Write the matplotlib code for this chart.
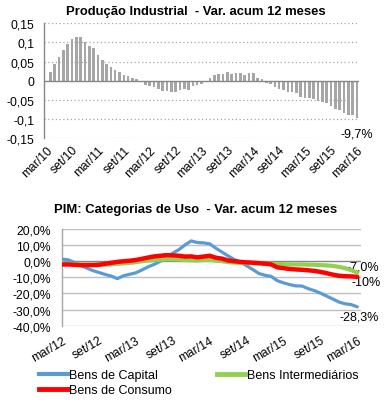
import matplotlib
matplotlib.use('Agg')
import matplotlib.pyplot as plt
from matplotlib.lines import Line2D

plt.rcParams['font.family'] = ['Liberation Sans', 'DejaVu Sans']

# ---------------- Top chart data ----------------
pi_title = 'Produção Industrial  - Var. acum 12 meses'
pi_ticklabels = ['mar/10', 'set/10', 'mar/11', 'set/11', 'mar/12', 'set/12', 'mar/13',
                 'set/13', 'mar/14', 'set/14', 'mar/15', 'set/15', 'mar/16']
pi_values = [-0.003, 0.022, 0.043, 0.062, 0.080, 0.096, 0.109, 0.114, 0.114, 0.101, 0.090, 0.085,
             0.067, 0.054, 0.043, 0.035, 0.027, 0.022, 0.014, 0.011, 0.006, 0.0035, -0.003, -0.011,
             -0.014, -0.017, -0.023, -0.027, -0.027, -0.030, -0.030, -0.025, -0.022, -0.025, -0.014, -0.011,
             -0.009, -0.001, 0.006, 0.014, 0.017, 0.017, 0.022, 0.017, 0.019, 0.019, 0.014, 0.019,
             0.019, 0.006, 0.0035, -0.005, -0.010, -0.017, -0.022, -0.025, -0.030, -0.030, -0.032, -0.042,
             -0.045, -0.046, -0.049, -0.053, -0.055, -0.058, -0.065, -0.073, -0.077, -0.084, -0.089, -0.089,
             -0.097]
pi_yticks = [0.15, 0.1, 0.05, 0, -0.05, -0.1, -0.15]
pi_yticklabels = ['0,15', '0,1', '0,05', '0', '-0,05', '-0,1', '-0,15']
pi_last_label = '-9,7%'

# ---------------- Bottom chart data ----------------
cat_title = 'PIM: Categorias de Uso  - Var. acum 12 meses'
cat_ticklabels = ['mar/12', 'set/12', 'mar/13', 'set/13', 'mar/14', 'set/14', 'mar/15', 'set/15', 'mar/16']
bens_capital = [1.3, 0.9, -0.7, -2.7, -4.2, -5.8, -7.0, -8.2, -9.2, -10.8, -9.0, -8.1,
                -7.2, -5.4, -3.5, -1.9, 0.0, 2.7, 5.0, 7.2, 10.1, 12.6, 11.6, 11.4,
                10.8, 8.1, 5.7, 3.3, 1.1, -0.5, -2.8, -5.1, -7.6, -8.7, -9.4, -12.1,
                -13.4, -14.5, -15.3, -15.4, -17.0, -18.2, -19.8, -21.6, -23.4, -25.3, -26.4, -26.9,
                -28.3]
bens_intermediarios = [-1.4, -1.6, -1.8, -2.0, -2.0, -2.0, -2.0, -2.1, -1.9, -1.6, -1.4, -1.0,
                       -0.6, 0.0, 0.4, 0.8, 1.0, 1.2, 1.2, 1.0, 0.8, 0.6, 0.4, 0.8,
                       0.8, 0.4, 0.0, -0.5, -0.8, -1.0, -1.1, -1.2, -1.3, -1.5, -1.6, -1.7,
                       -1.8, -1.9, -2.0, -2.0, -2.1, -2.2, -2.4, -2.6, -2.9, -3.5, -4.3, -5.5,
                       -7.0]
bens_consumo = [-2.0, -2.0, -2.2, -2.4, -2.4, -2.4, -2.2, -1.6, -1.0, -0.4, 0.0, 0.3,
                0.8, 1.5, 2.3, 3.0, 3.4, 3.8, 3.6, 3.4, 2.9, 3.0, 2.4, 2.9,
                3.4, 2.2, 1.6, 0.5, 0.0, -0.4, -0.7, -0.9, -1.2, -1.5, -2.0, -3.8,
                -4.3, -4.8, -5.1, -5.3, -5.6, -6.0, -6.6, -7.4, -8.3, -9.0, -9.3, -9.4,
                -9.7]
cat_yticks = [20, 10, 0, -10, -20, -30, -40]
cat_yticklabels = ['20,0%', '10,0%', '0,0%', '-10,0%', '-20,0%', '-30,0%', '-40,0%']
series_names = ['Bens de Capital', 'Bens Intermediários', 'Bens de Consumo']
end_labels = ['-28,3%', '-7,0%', '-10%']

BLUE = '#5B9BD5'
GREEN = '#92D050'
RED = '#FF0000'
TXT = '#000000'

W, H = 392, 406
fig = plt.figure(figsize=(W / 100, H / 100), dpi=100)


def rect(l, t, r, b):
    return [l / W, 1 - b / H, (r - l) / W, (b - t) / H]


# ---------------- Top chart ----------------
ax1 = fig.add_axes(rect(44, 24.3, 359, 139))
x1 = list(range(len(pi_values)))
ax1.bar(x1, pi_values, width=0.6, color='#A6A6A6', zorder=3)
ax1.set_xlim(-0.5, len(pi_values) - 0.5)
ax1.set_ylim(-0.15, 0.15)
ax1.set_yticks(pi_yticks)
ax1.set_yticklabels(pi_yticklabels)
for v in pi_yticks:
    if v != 0:
        ax1.axhline(v, color='#A6A6A6', lw=0.9, ls=(0, (1, 2)), zorder=1)
ax1.axhline(0, color='#868686', lw=1.0, zorder=4)
ax1.set_xticks(list(range(0, len(pi_values), 6)))
ax1.set_xticklabels(pi_ticklabels, rotation=45, ha='right', rotation_mode='anchor')
for s in ['top', 'right', 'bottom']:
    ax1.spines[s].set_visible(False)
ax1.spines['left'].set_color('#868686')
ax1.spines['left'].set_linewidth(1.0)
ax1.tick_params(axis='both', length=0, labelsize=8.7, colors=TXT)
ax1.tick_params(axis='y', pad=7)
ax1.tick_params(axis='x', pad=4)
ax1.annotate(pi_last_label, xy=(x1[-1], pi_values[-1]), xytext=(0, -11),
             textcoords='offset points', ha='center', va='center', fontsize=9, color=TXT)
fig.text(196 / W, 1 - 12 / H, pi_title, ha='center', va='center', fontsize=9.4,
         fontweight='bold', color=TXT)

# ---------------- Bottom chart ----------------
ax2 = fig.add_axes(rect(62, 230, 361, 326.7))
x2 = list(range(len(bens_capital)))
l_cap, = ax2.plot(x2, bens_capital, color=BLUE, lw=2.3, zorder=3, solid_capstyle='round')
l_int, = ax2.plot(x2, bens_intermediarios, color=GREEN, lw=3.0, zorder=4, solid_capstyle='round')
l_con, = ax2.plot(x2, bens_consumo, color=RED, lw=3.2, zorder=5, solid_capstyle='round')
ax2.set_xlim(0, len(bens_capital) - 1 + 0.6)
ax2.set_ylim(-40, 20)
ax2.set_yticks(cat_yticks)
ax2.set_yticklabels(cat_yticklabels)
for v in cat_yticks:
    ax2.axhline(v, color='#868686' if v == 0 else '#BFBFBF', lw=1.0, zorder=1)
ax2.set_xticks(list(range(0, len(bens_capital), 6)))
ax2.set_xticklabels(cat_ticklabels, rotation=30, ha='right', rotation_mode='anchor')
for s in ['top', 'right', 'bottom']:
    ax2.spines[s].set_visible(False)
ax2.spines['left'].set_color('#A6A6A6')
ax2.spines['left'].set_linewidth(1.0)
ax2.tick_params(axis='both', length=0, labelsize=8.7, colors=TXT)
ax2.tick_params(axis='y', pad=8)
ax2.tick_params(axis='x', pad=6)

last = x2[-1]
ax2.annotate(end_labels[0], xy=(last, bens_capital[-1]), xytext=(1, -7),
             textcoords='offset points', ha='center', va='center', fontsize=9, color=TXT)
ax2.annotate(end_labels[1], xy=(last, bens_intermediarios[-1]), xytext=(4, 4.3),
             textcoords='offset points', ha='center', va='center', fontsize=9, color=TXT)
ax2.annotate(end_labels[2], xy=(last, bens_consumo[-1]), xytext=(6, -3.8),
             textcoords='offset points', ha='center', va='center', fontsize=9, color=TXT)
fig.text(196 / W, 1 - 210.5 / H, cat_title, ha='center', va='center', fontsize=9.4,
         fontweight='bold', color=TXT)

handles = [Line2D([], [], color=BLUE, lw=3.0),
           Line2D([], [], color=RED, lw=3.5),
           Line2D([], [], color=GREEN, lw=3.5)]
labels = [series_names[0], series_names[2], series_names[1]]
fig.legend(handles, labels, ncol=2, loc='upper left', bbox_to_anchor=(33 / W, 1 - 364 / H),
           frameon=False, borderpad=0, fontsize=9, handlelength=2.3, handletextpad=0.1,
           columnspacing=3.6, labelspacing=0.25, labelcolor=TXT)

fig.savefig('out.png', dpi=100, facecolor='white')
